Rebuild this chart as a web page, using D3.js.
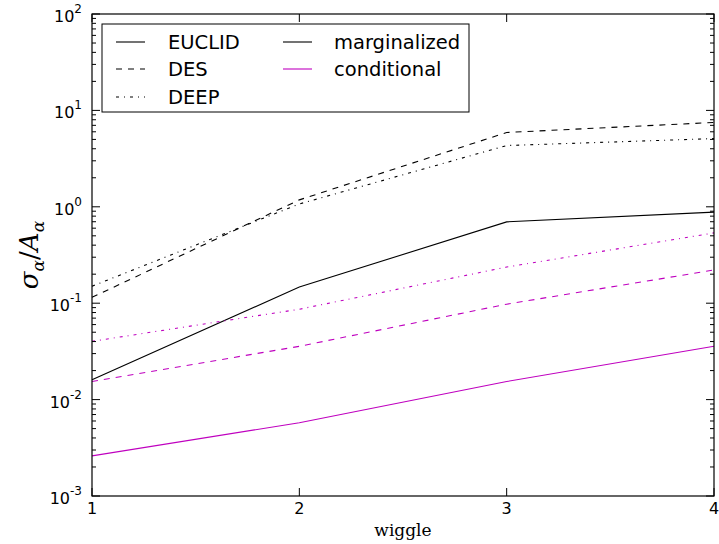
<!DOCTYPE html>
<html><head><meta charset="utf-8">
<script src="https://cdn.jsdelivr.net/npm/d3@7"></script>
<style>body{margin:0;background:#fff}svg{display:block}</style>
</head><body>
<svg id="c" width="719" height="544"></svg>
<script>
const wiggles = [1, 2, 3, 4];
const surveys = ["EUCLID", "DES", "DEEP"];
const euclidMarg = [0.0161, 0.147, 0.698, 0.88];
const desMarg = [0.115, 1.18, 5.9, 7.5];
const deepMarg = [0.150, 1.07, 4.32, 5.1];
const euclidCond = [0.00261, 0.00576, 0.0154, 0.0357];
const desCond = [0.0154, 0.0357, 0.0977, 0.221];
const deepCond = [0.0402, 0.0866, 0.237, 0.536];
const yTickExps = [-3, -2, -1, 0, 1, 2];
const xTicks = [1, 2, 3, 4];

const dashes = {EUCLID: null, DES: "6,6", DEEP: "3,5,1,5"};
const colors = {marginalized: "#000000", conditional: "#bf00bf"};
const series = [
  {s: "EUCLID", k: "marginalized", v: euclidMarg},
  {s: "DES", k: "marginalized", v: desMarg},
  {s: "DEEP", k: "marginalized", v: deepMarg},
  {s: "EUCLID", k: "conditional", v: euclidCond},
  {s: "DES", k: "conditional", v: desCond},
  {s: "DEEP", k: "conditional", v: deepCond}
];

const L = 92, R = 714, T = 14, B = 496;
const svg = d3.select("#c");
const x = d3.scaleLinear().domain([1, 4]).range([L, R]);
const y = d3.scaleLog().domain([1e-3, 1e2]).range([B, T]);

const line = d3.line().x((d, i) => x(wiggles[i])).y(d => y(d));
svg.append("g").selectAll("path").data(series).join("path")
  .attr("d", d => line(d.v))
  .attr("fill", "none")
  .attr("stroke", d => colors[d.k])
  .attr("stroke-width", 1.1)
  .attr("stroke-dasharray", d => dashes[d.s]);

// frame
svg.append("rect").attr("x", L).attr("y", T).attr("width", R - L).attr("height", B - T)
  .attr("fill", "none").attr("stroke", "#000").attr("stroke-width", 1.2);

// y ticks (major + minor), inward on both sides
const tg = svg.append("g").attr("stroke", "#000").attr("stroke-width", 1);
const minor = [];
for (let e = -3; e < 2; e++) for (let m = 2; m <= 9; m++) minor.push(m * Math.pow(10, e));
yTickExps.forEach(e => {
  const yy = y(Math.pow(10, e));
  tg.append("line").attr("x1", L).attr("x2", L + 8).attr("y1", yy).attr("y2", yy);
  tg.append("line").attr("x1", R).attr("x2", R - 8).attr("y1", yy).attr("y2", yy);
});
minor.forEach(v => {
  const yy = y(v);
  tg.append("line").attr("x1", L).attr("x2", L + 4).attr("y1", yy).attr("y2", yy);
  tg.append("line").attr("x1", R).attr("x2", R - 4).attr("y1", yy).attr("y2", yy);
});
xTicks.forEach(t => {
  const xx = x(t);
  tg.append("line").attr("x1", xx).attr("x2", xx).attr("y1", B).attr("y2", B - 8);
  tg.append("line").attr("x1", xx).attr("x2", xx).attr("y1", T).attr("y2", T + 8);
});

// y tick labels
const font = "DejaVu Sans, sans-serif";
yTickExps.forEach(e => {
  const t = svg.append("text").attr("x", 82).attr("y", y(Math.pow(10, e)) + 8)
    .attr("text-anchor", "end").attr("font-family", font).attr("font-size", 16).attr("fill", "#000");
  t.append("tspan").text("10");
  t.append("tspan").attr("dy", -9).attr("font-size", 12).text(String(e));
});
// x tick labels
xTicks.forEach(t => {
  svg.append("text").attr("x", x(t)).attr("y", 514).attr("text-anchor", "middle")
    .attr("font-family", font).attr("font-size", 16).attr("fill", "#000").text(t);
});

// axis labels
svg.append("text").attr("x", (L + R) / 2).attr("y", 536).attr("text-anchor", "middle")
  .attr("font-family", "DejaVu Serif, serif").attr("font-size", 17).text("wiggle");
const yl = svg.append("text").attr("transform", "translate(38,255) rotate(-90)")
  .attr("text-anchor", "middle").attr("font-family", "DejaVu Serif, serif")
  .attr("font-size", 26).attr("font-style", "italic");
yl.append("tspan").text("σ");
yl.append("tspan").attr("font-size", 17).attr("dy", 6).text("α");
yl.append("tspan").attr("dy", -6).attr("font-style", "normal").text("/");
yl.append("tspan").text("A");
yl.append("tspan").attr("font-size", 17).attr("dy", 6).text("α");

// legend
const lg = svg.append("g");
lg.append("rect").attr("x", 102).attr("y", 24).attr("width", 367).attr("height", 88)
  .attr("fill", "#fff").attr("stroke", "#000").attr("stroke-width", 1);
const rowsY = [42, 69, 97];
surveys.forEach((s, i) => {
  lg.append("line").attr("x1", 116).attr("x2", 145).attr("y1", rowsY[i]).attr("y2", rowsY[i])
    .attr("stroke", "#000").attr("stroke-width", 1.1).attr("stroke-dasharray", dashes[s]);
  lg.append("text").attr("x", 168).attr("y", rowsY[i] + 7).attr("font-family", font)
    .attr("font-size", 19.5).text(s);
});
["marginalized", "conditional"].forEach((k, i) => {
  lg.append("line").attr("x1", 283).attr("x2", 312).attr("y1", rowsY[i]).attr("y2", rowsY[i])
    .attr("stroke", colors[k]).attr("stroke-width", 1.1);
  lg.append("text").attr("x", 334).attr("y", rowsY[i] + 7).attr("font-family", font)
    .attr("font-size", 19.5).text(k);
});
</script>
</body></html>
